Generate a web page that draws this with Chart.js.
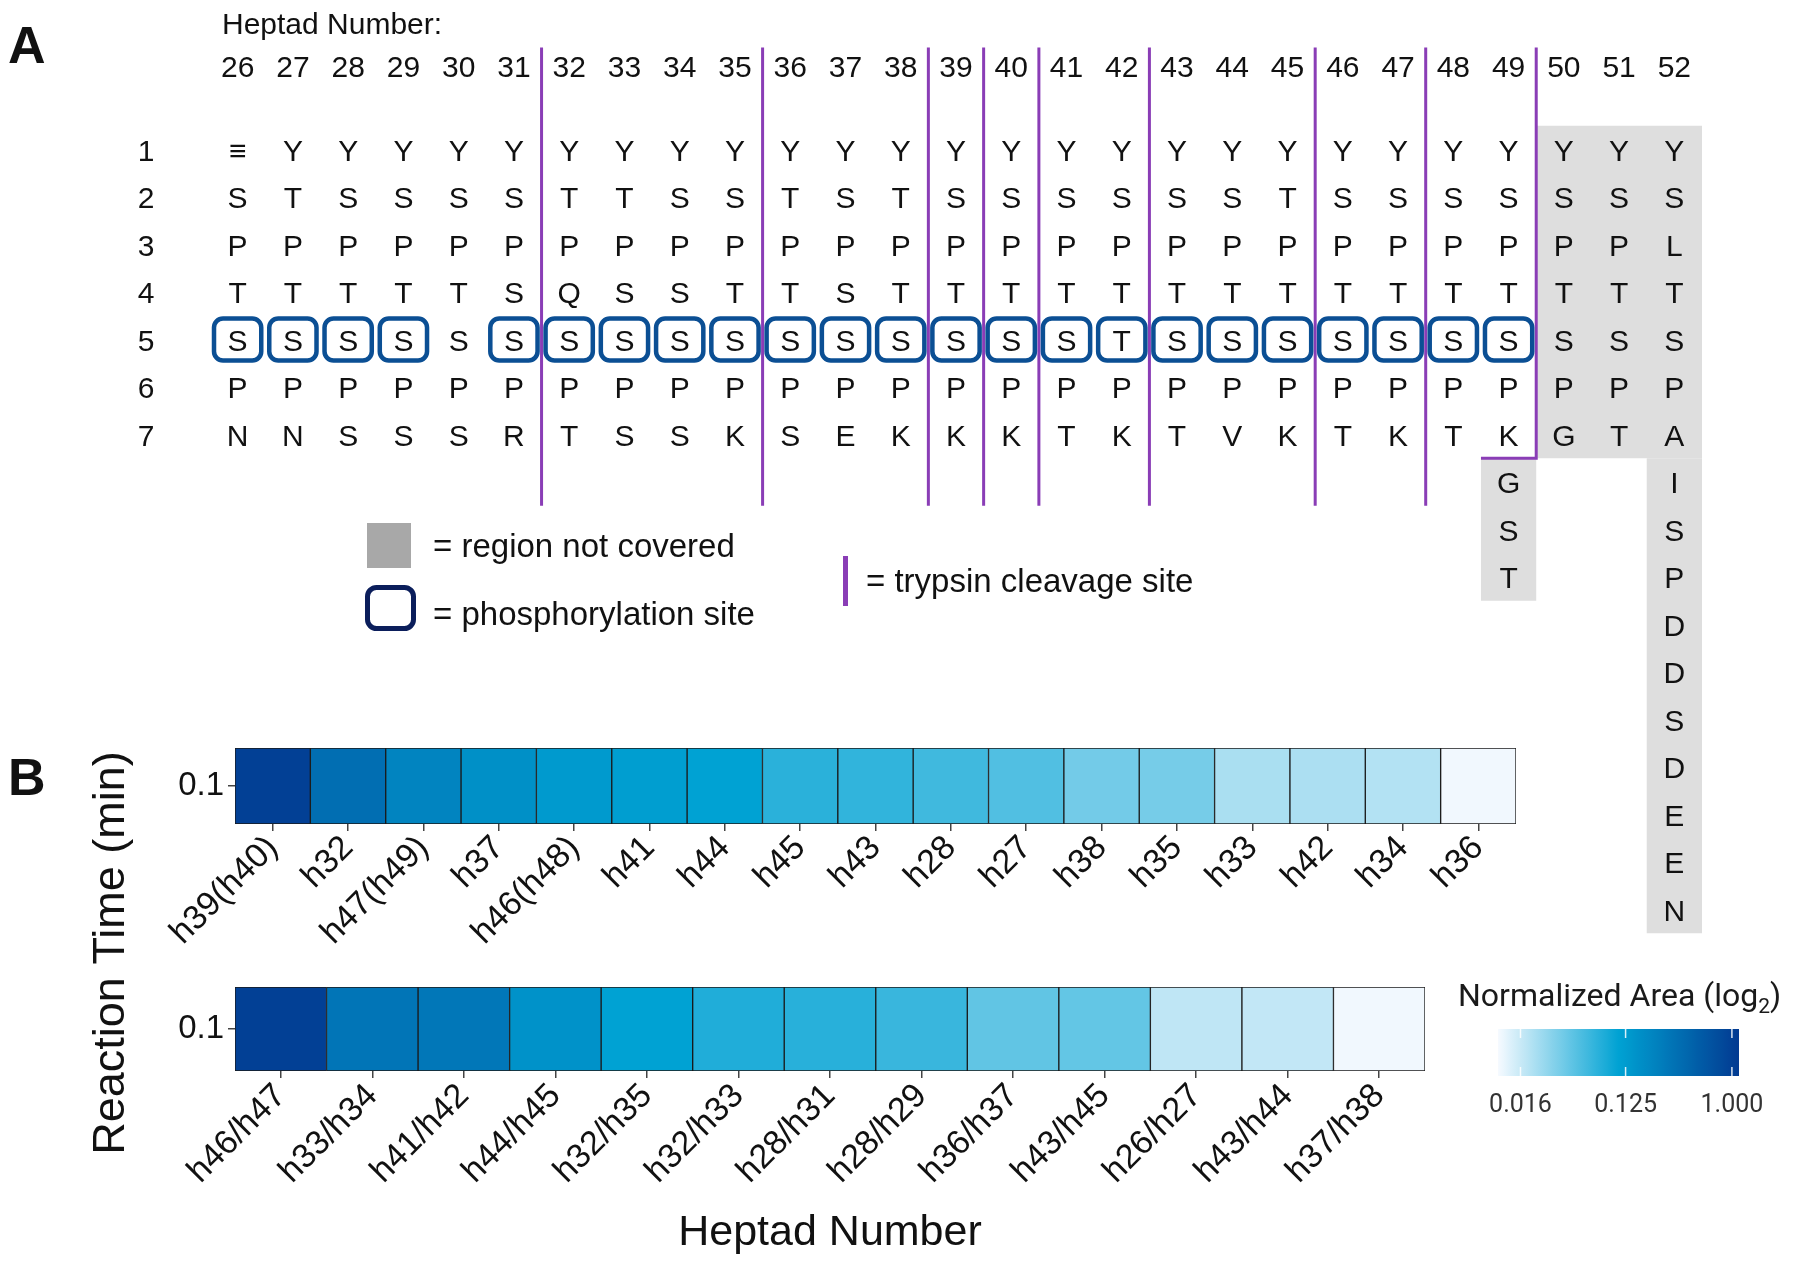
<!DOCTYPE html>
<html>
<head>
<meta charset="utf-8">
<script src="https://cdn.jsdelivr.net/npm/chart.js@4.4.1/dist/chart.umd.min.js"></script>
<style>
  html, body { margin: 0; padding: 0; background: #fff; }
  #wrap { position: relative; width: 1800px; height: 1268px; background: #fff; }
  canvas { position: absolute; left: 0; }
</style>
</head>
<body>
<div id="wrap">
  <canvas id="seqChart" width="1800" height="1268" style="top:0"></canvas>
  <canvas id="singleChart" width="1800" height="260" style="top:700px"></canvas>
  <canvas id="pairChart" width="1800" height="308" style="top:960px"></canvas>
</div>
<script>
// ---- panel A: CTD heptads ----
const heptads = [26, 27, 28, 29, 30, 31, 32, 33, 34, 35, 36, 37, 38, 39, 40, 41, 42, 43, 44, 45, 46, 47, 48, 49, 50, 51, 52];
const heptadSeqs = [
  '≡SPTSPN', 'YTPTSPN', 'YSPTSPS', 'YSPTSPS', 'YSPTSPS', 'YSPSSPR', 'YTPQSPT',
  'YTPSSPS', 'YSPSSPS', 'YSPTSPK', 'YTPTSPS', 'YSPSSPE', 'YTPTSPK', 'YSPTSPK',
  'YSPTSPK', 'YSPTSPT', 'YSPTTPK', 'YSPTSPT', 'YSPTSPV', 'YTPTSPK', 'YSPTSPT',
  'YSPTSPK', 'YSPTSPT', 'YSPTSPK', 'YSPTSPG', 'YSPTSPT', 'YSLTSPA'
];
const rowLabels = ['1', '2', '3', '4', '5', '6', '7'];
const tail49 = ['G', 'S', 'T'];
const tail52 = ['I', 'S', 'P', 'D', 'D', 'S', 'D', 'E', 'E', 'N'];
const phosphoSites = [26, 27, 28, 29, 31, 32, 33, 34, 35, 36, 37, 38, 39, 40, 41, 42, 43, 44, 45, 46, 47, 48, 49];
const phosphoRow = 5;
const cleavageSites = [31.5, 35.5, 38.5, 39.5, 40.5, 42.5, 45.5, 47.5];
const lastCleavage = 49.5;
// [x from, x to, row from, row to]
const notCovered = [[49.5, 52.5, 0.5, 7.5], [48.5, 49.5, 7.5, 10.5], [51.5, 52.5, 7.5, 17.5]];

// ---- panel B: normalized areas at 0.1 min ----
const reactionTimes = ['0.1'];
const singleLabels = ['h39(h40)', 'h32', 'h47(h49)', 'h37', 'h46(h48)', 'h41', 'h44', 'h45', 'h43',
  'h28', 'h27', 'h38', 'h35', 'h33', 'h42', 'h34', 'h36'];
const singleAreas = [1.0, 0.35, 0.215, 0.165, 0.129, 0.12, 0.109, 0.073, 0.068,
  0.059, 0.05, 0.036, 0.035, 0.0214, 0.021, 0.0195, 0.0108];
const pairLabels = ['h46/h47', 'h33/h34', 'h41/h42', 'h44/h45', 'h32/h35', 'h32/h33', 'h28/h31',
  'h28/h29', 'h36/h37', 'h43/h45', 'h26/h27', 'h43/h44', 'h37/h38'];
const pairAreas = [1.0, 0.30, 0.29, 0.157, 0.109, 0.08, 0.074, 0.063, 0.043, 0.042, 0.0174, 0.017, 0.0108];
const legendTicks = [0.016, 0.125, 1.0];

const FONT = '"Liberation Sans", Arial, "DejaVu Sans", sans-serif';
const TEXT = '#111';
const PURPLE = '#8a3db6';

// colour scale (log2 of normalized area)
const areaLo = -6.6, areaHi = 0.2;
const lowCol = [246, 250, 255], midCol = [0, 162, 211], highCol = [2, 58, 145];
function areaColor(v) {
  let t = (Math.log2(v) - areaLo) / (areaHi - areaLo);
  t = Math.max(0, Math.min(1, t));
  const a = t < 0.5 ? lowCol : midCol;
  const b = t < 0.5 ? midCol : highCol;
  const f = t < 0.5 ? t / 0.5 : (t - 0.5) / 0.5;
  return 'rgb(' + a.map((c, i) => Math.round(c + (b[i] - c) * f)).join(',') + ')';
}

function roundRect(ctx, x, y, w, h, r) {
  ctx.beginPath();
  ctx.moveTo(x + r, y);
  ctx.arcTo(x + w, y, x + w, y + h, r);
  ctx.arcTo(x + w, y + h, x, y + h, r);
  ctx.arcTo(x, y + h, x, y, r);
  ctx.arcTo(x, y, x + w, y, r);
  ctx.closePath();
}

// residue points
const residues = [];
heptads.forEach((h, i) => {
  [...heptadSeqs[i]].forEach((c, j) => residues.push({ x: h, y: j + 1, t: c }));
});
tail49.forEach((c, j) => residues.push({ x: 49, y: 8 + j, t: c }));
tail52.forEach((c, j) => residues.push({ x: 52, y: 8 + j, t: c }));

const lineTop = -1.15, lineBottom = 8.5;
const cleavageSets = cleavageSites.map(s => ({
  data: [{ x: s, y: lineTop }, { x: s, y: lineBottom }],
  showLine: true, borderColor: PURPLE, borderWidth: 3, pointRadius: 0, fill: false
}));
cleavageSets.push({
  data: [{ x: lastCleavage, y: lineTop }, { x: lastCleavage, y: 7.5 }, { x: lastCleavage - 1, y: 7.5 }],
  showLine: true, borderColor: PURPLE, borderWidth: 3, pointRadius: 0, fill: false
});
const greySets = notCovered.map(r => ({
  data: [{ x: r[0], y: r[2] }, { x: r[1], y: r[2] }, { x: r[1], y: r[3] }, { x: r[0], y: r[3] }, { x: r[0], y: r[2] }],
  showLine: true, borderColor: 'rgba(0,0,0,0)', borderWidth: 1, pointRadius: 0,
  backgroundColor: '#dedede', fill: 'shape'
}));

const seqPlugin = {
  id: 'seqText',
  afterDatasetsDraw(chart) {
    const ctx = chart.ctx;
    const xs = chart.scales.x, ys = chart.scales.y;
    const ux = xs.getPixelForValue(1) - xs.getPixelForValue(0);
    const uy = ys.getPixelForValue(1) - ys.getPixelForValue(0);
    ctx.save();
    // phosphorylation boxes
    ctx.strokeStyle = '#0b4f94';
    ctx.lineWidth = 4.5;
    chart.getDatasetMeta(1).data.forEach(el => {
      const w = ux * 0.855, h = uy * 0.885;
      roundRect(ctx, el.x - w / 2, el.y - h / 2, w, h, 9);
      ctx.stroke();
    });
    // residue letters
    ctx.fillStyle = TEXT;
    ctx.textAlign = 'center';
    ctx.textBaseline = 'middle';
    ctx.font = '30px ' + FONT;
    chart.getDatasetMeta(0).data.forEach((el, i) => {
      ctx.fillText(residues[i].t, el.x, el.y + 3);
    });
    // heptad numbers and row labels
    const headY = ys.getPixelForValue(-0.7);
    heptads.forEach(h => ctx.fillText(String(h), xs.getPixelForValue(h), headY));
    rowLabels.forEach((r, j) => ctx.fillText(r, 146, ys.getPixelForValue(j + 1) + 3));
    ctx.textAlign = 'left';
    ctx.fillText('Heptad Number:', 222, 26);

    // panel letters
    ctx.font = 'bold 52px ' + FONT;
    ctx.fillText('A', 8, 49);
    ctx.fillText('B', 8, 781);

    // legend for panel A
    ctx.font = '33px ' + FONT;
    ctx.fillStyle = '#a8a8a8';
    ctx.fillRect(367, 523, 44, 45);
    ctx.strokeStyle = '#0b1e5b';
    ctx.lineWidth = 5;
    roundRect(ctx, 367.5, 587.5, 46, 41, 9);
    ctx.stroke();
    ctx.fillStyle = PURPLE;
    ctx.fillRect(843, 556, 5, 50);
    ctx.fillStyle = TEXT;
    ctx.fillText('= region not covered', 433, 548);
    ctx.fillText('= phosphorylation site', 433, 616);
    ctx.fillText('= trypsin cleavage site', 866, 583);

    // shared y title of panel B
    ctx.save();
    ctx.translate(112, 953);
    ctx.rotate(-Math.PI / 2);
    ctx.textAlign = 'center';
    ctx.font = '45px ' + FONT;
    ctx.fillText('Reaction Time (min)', 0, 0);
    ctx.restore();

    // colour bar legend
    const RF = 'Roboto, "Liberation Sans", sans-serif';
    ctx.font = '32px ' + RF;
    ctx.fillStyle = '#1a1a1a';
    let tx = 1458;
    const main = 'Normalized Area (log';
    ctx.fillText(main, tx, 998);
    tx += ctx.measureText(main).width;
    ctx.font = '21px ' + RF;
    ctx.fillText('2', tx, 1008);
    tx += ctx.measureText('2').width;
    ctx.font = '32px ' + RF;
    ctx.fillText(')', tx, 998);

    const bx0 = 1498, bx1 = 1739, by0 = 1029, by1 = 1076;
    const grad = ctx.createLinearGradient(bx0, 0, bx1, 0);
    for (let k = 0; k <= 40; k++) {
      const lv = areaLo + (areaHi - areaLo) * k / 40;
      grad.addColorStop(k / 40, areaColor(Math.pow(2, lv)));
    }
    ctx.fillStyle = grad;
    ctx.fillRect(bx0, by0, bx1 - bx0, by1 - by0);
    ctx.strokeStyle = 'rgba(255,255,255,0.85)';
    ctx.lineWidth = 1.5;
    ctx.textAlign = 'center';
    ctx.font = '25px ' + RF;
    legendTicks.forEach(v => {
      const px = bx0 + (Math.log2(v) - areaLo) / (areaHi - areaLo) * (bx1 - bx0);
      ctx.beginPath();
      ctx.moveTo(px, by0); ctx.lineTo(px, by0 + 9);
      ctx.moveTo(px, by1); ctx.lineTo(px, by1 - 9);
      ctx.stroke();
      ctx.fillStyle = '#333';
      ctx.fillText(v.toFixed(3), px, 1106);
    });
    ctx.restore();
  }
};

new Chart(document.getElementById('seqChart'), {
  type: 'scatter',
  data: {
    datasets: [
      { data: residues, pointRadius: 0 },
      { data: phosphoSites.map(h => ({ x: h, y: phosphoRow })), pointRadius: 0 },
      ...cleavageSets,
      ...greySets
    ]
  },
  options: {
    responsive: false,
    animation: false,
    devicePixelRatio: 1,
    events: [],
    layout: { padding: { left: 210, right: 98, top: 7, bottom: 311 } },
    plugins: { legend: { display: false }, tooltip: { enabled: false } },
    scales: {
      x: { type: 'linear', min: 25.5, max: 52.5, display: false },
      y: { type: 'linear', min: -2, max: 18, reverse: true, display: false }
    }
  },
  plugins: [seqPlugin]
});

// ---- panel B heat strips ----
function heatConfig(labels, areas, opts) {
  return {
    type: 'bar',
    data: {
      labels: labels,
      datasets: [{
        data: labels.map(() => [0, 1]),
        backgroundColor: areas.map(areaColor),
        borderColor: '#1a1a1a',
        borderWidth: 1,
        borderSkipped: false,
        barPercentage: 1,
        categoryPercentage: 1
      }]
    },
    options: {
      responsive: false,
      animation: false,
      devicePixelRatio: 1,
      events: [],
      layout: { padding: { left: 0, right: opts.right, top: opts.top, bottom: 0 } },
      plugins: { legend: { display: false }, tooltip: { enabled: false } },
      scales: {
        x: {
          grid: { offset: false, drawOnChartArea: false, tickLength: 7, color: '#444', lineWidth: 1.5 },
          border: { display: false },
          ticks: {
            autoSkip: false, minRotation: 45, maxRotation: 45, padding: opts.tickPad,
            color: TEXT, font: { family: FONT, size: 34 }
          },
          title: opts.title ? {
            display: true, text: opts.title, color: TEXT,
            font: { family: FONT, size: 43 }, padding: { top: 0, bottom: 9 }
          } : { display: false },
          afterFit: s => { s.height = opts.axisH; }
        },
        y: {
          min: 0, max: 1,
          grid: { drawOnChartArea: false, tickLength: 7, color: '#444', lineWidth: 1.5 },
          border: { display: false },
          afterBuildTicks: s => { s.ticks = [{ value: 0.5 }]; },
          ticks: { callback: () => reactionTimes[0], color: TEXT, padding: 4, font: { family: FONT, size: 33 } },
          afterFit: s => { s.width = 235; }
        }
      }
    }
  };
}

new Chart(document.getElementById('singleChart'),
  heatConfig(singleLabels, singleAreas, { right: 284, top: 48, axisH: 136, tickPad: -3 }));
new Chart(document.getElementById('pairChart'),
  heatConfig(pairLabels, pairAreas, { right: 375, top: 27, axisH: 197, tickPad: -2, title: 'Heptad Number' }));
</script>
</body>
</html>
